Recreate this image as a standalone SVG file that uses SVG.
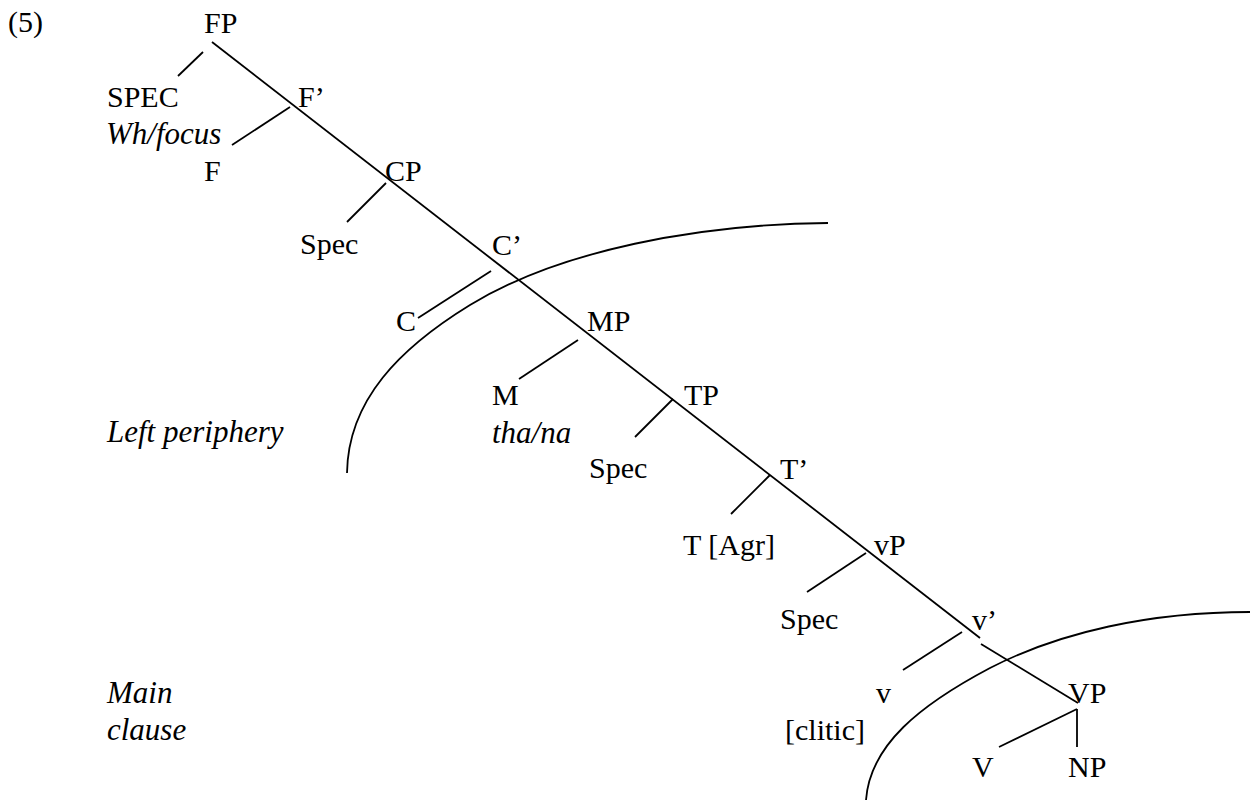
<svg xmlns="http://www.w3.org/2000/svg" width="1259" height="802" viewBox="0 0 1259 802">
<style>
text{font-family:"Liberation Serif","Times New Roman",serif;font-size:30px;fill:#000}
.i{font-style:italic;font-size:31px}
.e{stroke:#000;stroke-width:1.8;fill:none;stroke-linecap:butt}
</style>
<rect width="1259" height="802" fill="#fff"/>
<g id="connectors">
<path class="e" d="M212,42 L980,638"/>
<path class="e" d="M981,644 L1078,703"/>
<path class="e" d="M203,52 L178,76"/>
<path class="e" d="M290,107 L232,145"/>
<path class="e" d="M386,183 L347,222"/>
<path class="e" d="M491,271 L418,318"/>
<path class="e" d="M578,340 L519,379"/>
<path class="e" d="M673,399 L635,437"/>
<path class="e" d="M770,475 L731,514"/>
<path class="e" d="M866,553 L807,592"/>
<path class="e" d="M962,632 L903,670"/>
<path class="e" d="M1077,709 L999,747"/>
<path class="e" d="M1077,709 L1077,747"/>
</g>
<g id="boundaries">
<path class="e" d="M828,223 C700,224 560,250 470,305 C400,348 348,400 347,473"/>
<path class="e" d="M1250,612 C1150,612 1060,632 990,668 C920,705 870,745 866,800"/>
</g>
<g id="label-5"><text x="8" y="32">(5)</text></g>
<g id="FP"><text x="204" y="33">FP</text></g>
<g id="SPEC"><text x="107" y="107">SPEC</text><text class="i" x="106" y="144">Wh/focus</text></g>
<g id="Fbar"><text x="298" y="107">F’</text></g>
<g id="F"><text x="204" y="181">F</text></g>
<g id="CP"><text x="385" y="181">CP</text></g>
<g id="SpecC"><text x="300" y="254">Spec</text></g>
<g id="Cbar"><text x="492" y="255">C’</text></g>
<g id="C"><text x="396" y="331">C</text></g>
<g id="MP"><text x="587" y="331">MP</text></g>
<g id="M"><text x="492" y="405">M</text><text class="i" x="492" y="443">tha/na</text></g>
<g id="left-periphery"><text class="i" x="107" y="442">Left periphery</text></g>
<g id="TP"><text x="684" y="405">TP</text></g>
<g id="SpecT"><text x="589" y="478">Spec</text></g>
<g id="Tbar"><text x="780" y="479">T’</text></g>
<g id="T"><text x="683" y="555">T [Agr]</text></g>
<g id="vP"><text x="874" y="555">vP</text></g>
<g id="Specv"><text x="780" y="629">Spec</text></g>
<g id="vbar"><text x="972" y="630">v’</text></g>
<g id="v"><text x="876" y="703">v</text><text x="785" y="740">[clitic]</text></g>
<g id="VP"><text x="1068" y="703">VP</text></g>
<g id="main-clause"><text class="i" x="107" y="703">Main</text><text class="i" x="107" y="740">clause</text></g>
<g id="V"><text x="972" y="777">V</text></g>
<g id="NP"><text x="1068" y="777">NP</text></g>
</svg>
